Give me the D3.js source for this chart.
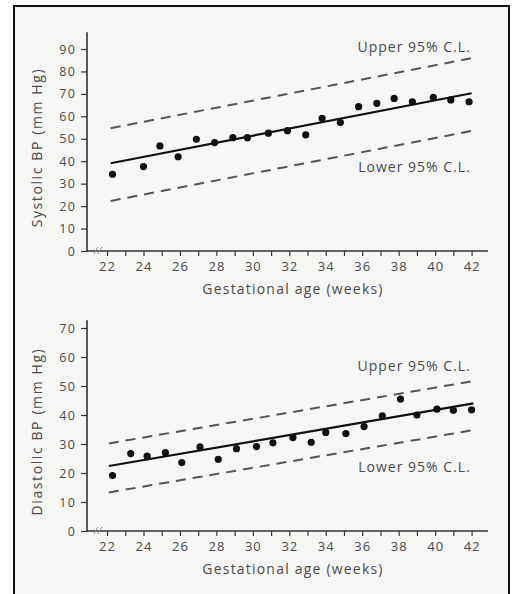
<!DOCTYPE html>
<html>
<head>
<meta charset="utf-8">
<script src="https://cdn.jsdelivr.net/npm/d3@7"></script>
<style>
  html, body { margin: 0; padding: 0; background: #fff; }
  svg { display: block; }
  text { font-family: "Open Sans", "DejaVu Sans", sans-serif; fill: #4a4a4a; }
</style>
</head>
<body>
<svg id="chart" width="514" height="594"></svg>
<script>
// x axis (gestational age, weeks)
const xTickWeeks = d3.range(22, 43);          // a tick every week
const xTickLabels = [22, 24, 26, 28, 30, 32, 34, 36, 38, 40, 42];

// systolic panel
const sysTicks = [0, 10, 20, 30, 40, 50, 60, 70, 80, 90];
const sysWeeks = [22.3, 24, 24.9, 25.9, 26.9, 27.9, 28.9, 29.7, 30.85, 31.9, 32.9, 33.8, 34.8, 35.8, 36.8, 37.75, 38.75, 39.9, 40.86, 41.86];
const sysBP    = [34.2, 37.6, 46.8, 42.0, 49.8, 48.3, 50.5, 50.5, 52.5, 53.6, 51.7, 59.1, 57.2, 64.3, 65.8, 68.0, 66.5, 68.5, 67.3, 66.5];
const sysFitWeeks = [22.2, 42];
const sysFit   = [39.1, 70.3];
const sysUpper = [54.7, 85.9];
const sysLower = [22.3, 53.5];

// diastolic panel
const diaTicks = [0, 10, 20, 30, 40, 50, 60, 70];
const diaWeeks = [22.3, 23.3, 24.2, 25.2, 26.1, 27.1, 28.1, 29.1, 30.2, 31.1, 32.2, 33.2, 34.0, 35.1, 36.1, 37.1, 38.1, 39.0, 40.1, 41.0, 42.0];
const diaBP    = [19.1, 26.7, 25.8, 27.0, 23.6, 29.0, 24.7, 28.4, 29.1, 30.4, 32.2, 30.6, 34.0, 33.6, 36.0, 39.7, 45.5, 40.0, 42.0, 41.6, 41.8];
const diaFitWeeks = [22.1, 42.1];
const diaFit   = [22.4, 44.0];
const diaUpper = [30.2, 51.7];
const diaLower = [13.3, 34.8];

const svg = d3.select('#chart');
const FONT = '"Open Sans", "DejaVu Sans", sans-serif';

// paper frame
svg.append('rect')
  .attr('x', 14).attr('y', 6)
  .attr('width', 495).attr('height', 610)
  .attr('fill', '#f6f6f4')
  .attr('stroke', '#111')
  .attr('stroke-width', 2);

const x = d3.scaleLinear().domain([20.9, 42.9]).range([87, 488]);

function drawPanel({ ticks, yMax, y0, y1, weeks, values, fitWeeks, fit, upper, lower, title, upperAt, lowerAt }) {
  const y = d3.scaleLinear().domain([0, ticks[ticks.length - 1]]).range([y0, y1]);
  const g = svg.append('g');
  const axisColor = '#333';

  // y axis
  const ya = g.append('g')
    .attr('transform', `translate(${x.range()[0]},0)`)
    .call(d3.axisLeft(y).tickValues(ticks).tickSize(6).tickSizeOuter(0).tickPadding(5));
  ya.select('.domain').remove();
  ya.selectAll('line').attr('stroke', axisColor).attr('stroke-width', 1.2);
  ya.selectAll('text').attr('font-size', 12.5).attr('fill', '#4a4a4a')
    .attr('letter-spacing', 1.2).style('font-family', FONT);
  g.append('line')
    .attr('x1', x.range()[0]).attr('x2', x.range()[0])
    .attr('y1', y(yMax)).attr('y2', y(0) + 1)
    .attr('stroke', axisColor).attr('stroke-width', 1.6);

  // x axis
  const xa = g.append('g')
    .attr('transform', `translate(0,${y(0)})`)
    .call(d3.axisBottom(x).tickValues(xTickWeeks).tickSize(5).tickSizeOuter(0).tickPadding(6)
      .tickFormat(d => xTickLabels.includes(d) ? d : ''));
  xa.select('.domain').remove();
  xa.selectAll('line').attr('stroke', axisColor).attr('stroke-width', 1.2);
  xa.selectAll('text').attr('font-size', 13).attr('fill', '#4a4a4a')
    .attr('letter-spacing', 1).style('font-family', FONT);
  g.append('line')
    .attr('x1', x.range()[0]).attr('x2', x.range()[1])
    .attr('y1', y(0)).attr('y2', y(0))
    .attr('stroke', axisColor).attr('stroke-width', 1.6);

  // axis break marks
  const bx = x(21.5);
  [-2, 2].forEach(o => {
    g.append('line')
      .attr('x1', bx + o - 2).attr('x2', bx + o + 2)
      .attr('y1', y(0) + 3).attr('y2', y(0) - 4)
      .attr('stroke', '#888').attr('stroke-width', 1);
  });

  // axis titles
  g.append('text')
    .attr('x', 293).attr('y', y(0) + 43)
    .attr('text-anchor', 'middle')
    .attr('font-size', 14).attr('letter-spacing', 1.2)
    .text('Gestational age (weeks)');
  g.append('text')
    .attr('transform', `translate(42,${(y(0) + y(yMax)) / 2 + 6}) rotate(-90)`)
    .attr('text-anchor', 'middle')
    .attr('font-size', 14).attr('letter-spacing', 1.6)
    .text(title);

  const line = d3.line().x(d => x(d[0])).y(d => y(d[1]));

  // confidence limits
  [upper, lower].forEach(arr => {
    g.append('path')
      .attr('d', line(d3.zip(fitWeeks, arr)))
      .attr('fill', 'none')
      .attr('stroke', '#555')
      .attr('stroke-width', 2)
      .attr('stroke-dasharray', '10,7');
  });

  // regression line
  g.append('path')
    .attr('d', line(d3.zip(fitWeeks, fit)))
    .attr('fill', 'none')
    .attr('stroke', '#111')
    .attr('stroke-width', 2.2);

  // observations
  g.selectAll('circle.pt')
    .data(d3.zip(weeks, values))
    .join('circle')
    .attr('class', 'pt')
    .attr('cx', d => x(d[0]))
    .attr('cy', d => y(d[1]))
    .attr('r', 3.6)
    .attr('fill', '#111');

  // C.L. labels
  g.append('text')
    .attr('x', x(41.9) + 1).attr('y', y(upperAt) + 5)
    .attr('text-anchor', 'end').attr('font-size', 14).attr('letter-spacing', 1)
    .text('Upper 95% C.L.');
  g.append('text')
    .attr('x', x(41.9) + 1).attr('y', y(lowerAt) + 5)
    .attr('text-anchor', 'end').attr('font-size', 14).attr('letter-spacing', 1)
    .text('Lower 95% C.L.');
}

drawPanel({
  ticks: sysTicks, yMax: 97.5, y0: 251, y1: 49,
  weeks: sysWeeks, values: sysBP,
  fitWeeks: sysFitWeeks, fit: sysFit, upper: sysUpper, lower: sysLower,
  title: 'Systolic BP (mm Hg)', upperAt: 90.9, lowerAt: 37.6
});

drawPanel({
  ticks: diaTicks, yMax: 72.7, y0: 531, y1: 328,
  weeks: diaWeeks, values: diaBP,
  fitWeeks: diaFitWeeks, fit: diaFit, upper: diaUpper, lower: diaLower,
  title: 'Diastolic BP (mm Hg)', upperAt: 56.9, lowerAt: 22.2
});
</script>
</body>
</html>
